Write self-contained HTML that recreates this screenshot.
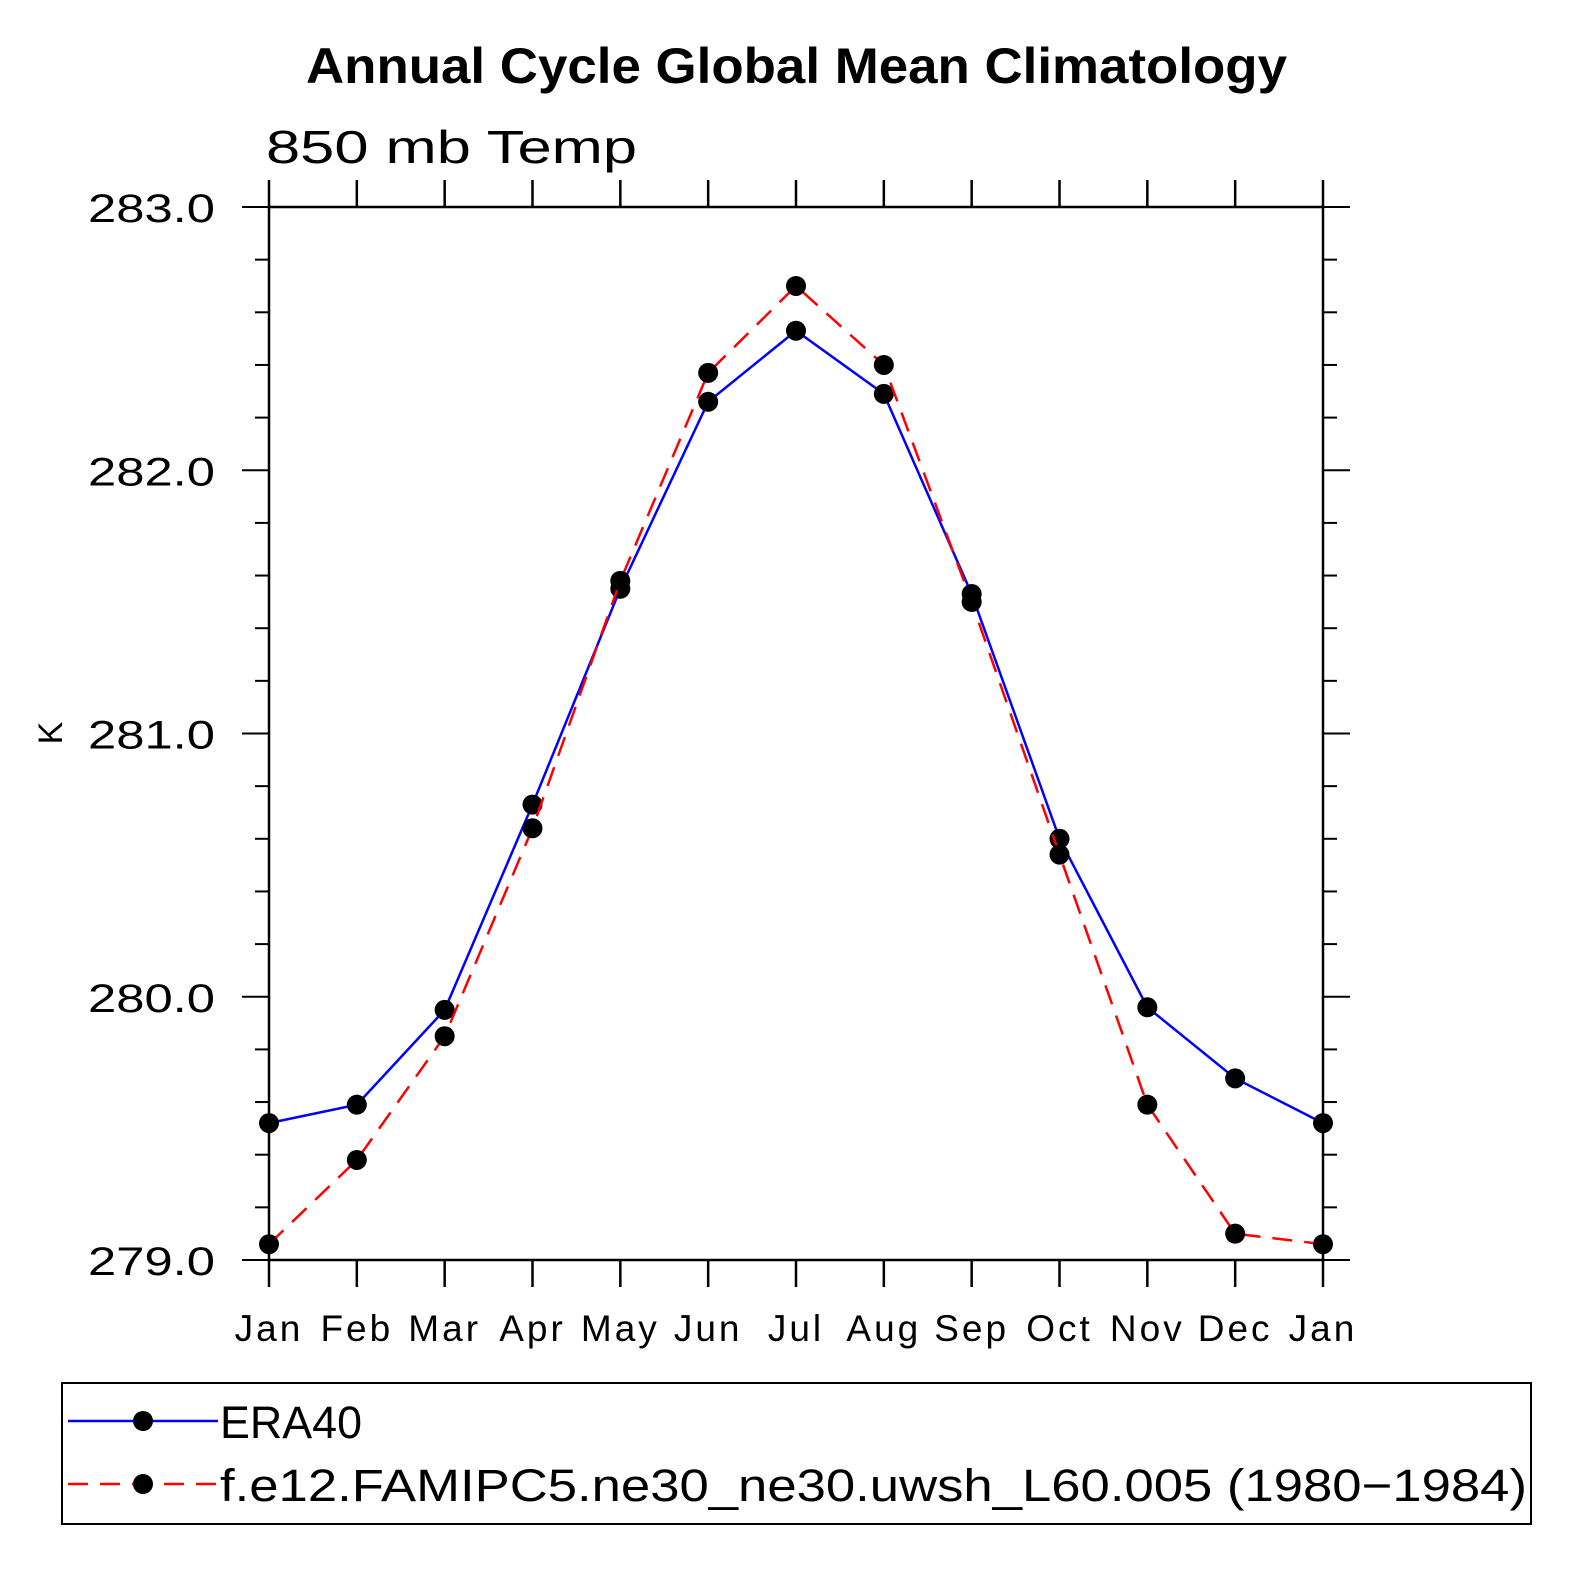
<!DOCTYPE html>
<html><head><meta charset="utf-8">
<style>
html,body{margin:0;padding:0;background:#fff;}
svg text{font-family:"Liberation Sans","DejaVu Sans",sans-serif;}
</style></head>
<body>
<svg id="chart" width="1575" height="1575" viewBox="0 0 1575 1575" xmlns="http://www.w3.org/2000/svg">
<rect width="1575" height="1575" fill="#fff"/>
<text x="306" y="83" font-size="50" font-weight="bold" textLength="981" lengthAdjust="spacingAndGlyphs">Annual Cycle Global Mean Climatology</text>
<text x="266" y="163" font-size="46" font-weight="300" textLength="371" lengthAdjust="spacingAndGlyphs">850 mb Temp</text>
<text x="0" y="0" font-size="34" text-anchor="middle" transform="translate(62,733) rotate(-90)">K</text>
<g id="axes"></g>
<g id="series"></g>
<rect x="62" y="1383" width="1469" height="141" fill="none" stroke="#000" stroke-width="2"/>
<g>
<line x1="68" y1="1421" x2="218" y2="1421" stroke="#0000ff" stroke-width="2.5"/>
<circle cx="143" cy="1421" r="10"/>
<text x="220" y="1438" font-size="45" font-weight="300" textLength="142" lengthAdjust="spacingAndGlyphs">ERA40</text>
</g>
<g>
<line x1="68" y1="1484" x2="218" y2="1484" stroke="#ff0000" stroke-width="2.5" stroke-dasharray="20,12"/>
<circle cx="143" cy="1484" r="10"/>
<text x="220" y="1501" font-size="45" font-weight="300" textLength="1307" lengthAdjust="spacingAndGlyphs">f.e12.FAMIPC5.ne30_ne30.uwsh_L60.005 (1980−1984)</text>
</g>
</svg>
<script>
const months = ["Jan","Feb","Mar","Apr","May","Jun","Jul","Aug","Sep","Oct","Nov","Dec","Jan"];
const era40 = [279.52,279.59,279.95,280.73,281.55,282.26,282.53,282.29,281.53,280.60,279.96,279.69,279.52];
const model = [279.06,279.38,279.85,280.64,281.58,282.37,282.70,282.40,281.50,280.54,279.59,279.10,279.06];
const yTicks = [279.0,280.0,281.0,282.0,283.0];
const yMin = 279, yMax = 283;
const L=269,R=1323,T=207,B=1260;
const NS="http://www.w3.org/2000/svg";
function xs(i){return L+(R-L)*i/(months.length-1);}
function ys(v){return B-(B-T)*(v-yMin)/(yMax-yMin);}
function mk(tag,attrs,parent){const e=document.createElementNS(NS,tag);for(const k in attrs)e.setAttribute(k,attrs[k]);parent.appendChild(e);return e;}
const ax=document.getElementById('axes');
const frame=mk('rect',{x:L,y:T,width:R-L,height:B-T,fill:'none',stroke:'#000','stroke-width':2.5},ax);


months.forEach((m,i)=>{
  const x=xs(i);
  mk('line',{x1:x,y1:B,x2:x,y2:B+27,stroke:'#000','stroke-width':2.5},ax);
  mk('line',{x1:x,y1:T,x2:x,y2:T-27,stroke:'#000','stroke-width':2.5},ax);
  const t=mk('text',{x:x,y:1341,'font-size':37,'text-anchor':'middle','font-weight':300,'letter-spacing':3},ax);
  t.textContent=m;
  
  
});
for(let v=yMin;v<=yMax+1e-9;v+=0.2){
  const y=ys(v);
  const major=Math.abs(v-Math.round(v))<1e-6;
  const len=major?27:14;
  mk('line',{x1:L,y1:y,x2:L-len,y2:y,stroke:'#000','stroke-width':2},ax);
  mk('line',{x1:R,y1:y,x2:R+len,y2:y,stroke:'#000','stroke-width':2},ax);
}
yTicks.forEach(v=>{
  const t=mk('text',{x:88,y:ys(v)+15,'font-size':40,'font-weight':300,textLength:127,lengthAdjust:'spacingAndGlyphs'},ax);
  t.textContent=v.toFixed(1);
  
  
});
const sg=document.getElementById('series');
function drawSeries(vals,color,dash,name){
  const pts=vals.map((v,i)=>xs(i)+','+ys(v)).join(' ');
  const pl=mk('polyline',{points:pts,fill:'none',stroke:color,'stroke-width':2.5},sg);
  if(dash)pl.setAttribute('stroke-dasharray',dash);
  
  
  vals.forEach((v,i)=>{
    const c=mk('circle',{cx:xs(i),cy:ys(v),r:10,fill:'#000'},sg);
    
    
  });
}
drawSeries(era40,'#0000ff',null,'era40');
drawSeries(model,'#ff0000','20,12','model');
</script>
</body></html>
